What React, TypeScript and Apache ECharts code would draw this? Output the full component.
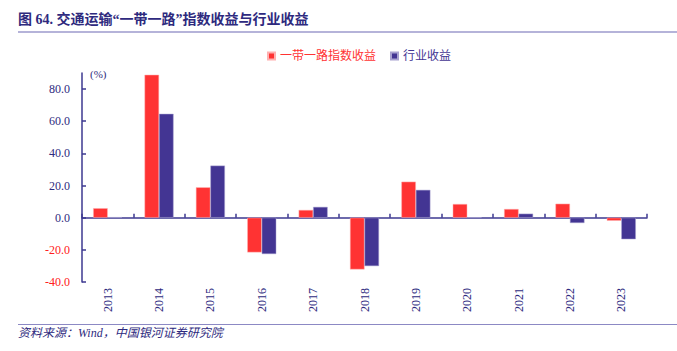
import React, { useEffect, useRef } from "react";
import * as echarts from "echarts";

const categories = ["2013", "2014", "2015", "2016", "2017", "2018", "2019", "2020", "2021", "2022", "2023"];
const beltRoadReturn = [5.9, 88.9, 18.9, -21.6, 4.8, -32.2, 22.4, 8.5, 5.4, 8.7, -1.9];
const industryReturn = [0.3, 64.6, 32.4, -22.6, 6.7, -30.1, 17.3, 0.2, 2.5, -3.3, -13.4];
const yTickValues = [-40, -20, 0, 20, 40, 60, 80];
const seriesNames = ["一带一路指数收益", "行业收益"];

const RED = "#FF3333";
const BLUE = "#433593";
const AXIS = "#3D3890";
const TEXT = "#2E2A7E";
const SERIF = "'Liberation Serif', 'Times New Roman', 'Noto Sans CJK SC', serif";

export default function App() {
  const ref = useRef<HTMLDivElement>(null);
  useEffect(() => {
    if (!ref.current) return;
    const chart = echarts.init(ref.current, undefined, { renderer: "svg" });
    chart.setOption({
      animation: false,
      backgroundColor: "#ffffff",
      textStyle: { fontFamily: SERIF },
      graphic: [
        {
          type: "text",
          left: 18,
          top: 12,
          style: {
            text: "图 64. 交通运输“一带一路”指数收益与行业收益",
            fontSize: 14,
            fontWeight: "bold",
            fill: TEXT,
            fontFamily: "'Liberation Serif', 'Noto Sans CJK SC', serif",
          },
        },
        {
          type: "line",
          shape: { x1: 18, y1: 32, x2: 677, y2: 32 },
          style: { stroke: "#9C9ACC", lineWidth: 1.5 },
        },
        {
          type: "line",
          shape: { x1: 18, y1: 324.5, x2: 677, y2: 324.5 },
          style: { stroke: "#8C89C4", lineWidth: 1 },
        },
        {
          type: "text",
          left: 18,
          top: 327,
          style: {
            text: "资料来源：Wind，中国银河证券研究院",
            fontSize: 12,
            fontStyle: "italic",
            fill: TEXT,
            fontFamily: "'Liberation Serif', 'Noto Sans CJK SC', serif",
          },
        },
        {
          type: "text",
          left: 90,
          top: 68,
          style: { text: "(%)", fontSize: 11, fill: TEXT, fontFamily: SERIF },
        },
      ],
      legend: {
        top: 45,
        left: 262,
        itemWidth: 7,
        itemHeight: 7,
        itemGap: 14,
        icon: "rect",
        textStyle: { fontSize: 12, fontFamily: SERIF },
        data: [
          { name: seriesNames[0], textStyle: { color: RED } },
          { name: seriesNames[1], textStyle: { color: BLUE } },
        ],
      },
      grid: { left: 82, right: 30, top: 73, bottom: 69 },
      xAxis: [
        {
          type: "category",
          data: categories,
          axisLine: { onZero: true, lineStyle: { color: AXIS, width: 1.5 } },
          axisTick: { show: true, inside: true, length: 4, lineStyle: { color: AXIS, width: 1.5 } },
          axisLabel: { show: false },
          splitLine: { show: false },
        },
        {
          type: "category",
          data: categories,
          position: "bottom",
          axisLine: { show: false, onZero: false },
          axisTick: { show: false },
          axisLabel: {
            rotate: 90,
            margin: 6,
            fontSize: 12,
            color: TEXT,
            fontFamily: SERIF,
          },
        },
      ],
      yAxis: {
        type: "value",
        min: -40,
        max: 90,
        interval: 20,
        axisLine: { show: true, lineStyle: { color: AXIS, width: 1.5 } },
        axisTick: {
          show: true,
          inside: true,
          length: 4,
          customValues: yTickValues,
          lineStyle: { color: AXIS, width: 1.5 },
        },
        axisLabel: {
          customValues: yTickValues,
          margin: 12,
          fontSize: 12,
          fontFamily: SERIF,
          formatter: (v: number) => v.toFixed(1),
          color: (v: any) => (Number(v) < 0 ? "#FF2020" : TEXT),
        },
        splitLine: { show: false },
      },
      series: [
        {
          name: seriesNames[0],
          type: "bar",
          data: beltRoadReturn,
          barWidth: 14.5,
          barGap: "0%",
          itemStyle: { color: RED, borderColor: "#FFB0B0", borderWidth: 0.5 },
        },
        {
          name: seriesNames[1],
          type: "bar",
          data: industryReturn,
          barWidth: 14.5,
          barGap: "0%",
          itemStyle: { color: BLUE, borderColor: "#A8A2D0", borderWidth: 0.5 },
        },
      ],
    });
    return () => chart.dispose();
  }, []);
  return (
    <div
      ref={ref}
      style={{ position: "fixed", left: 0, top: 0, width: 677, height: 351 }}
    />
  );
}
